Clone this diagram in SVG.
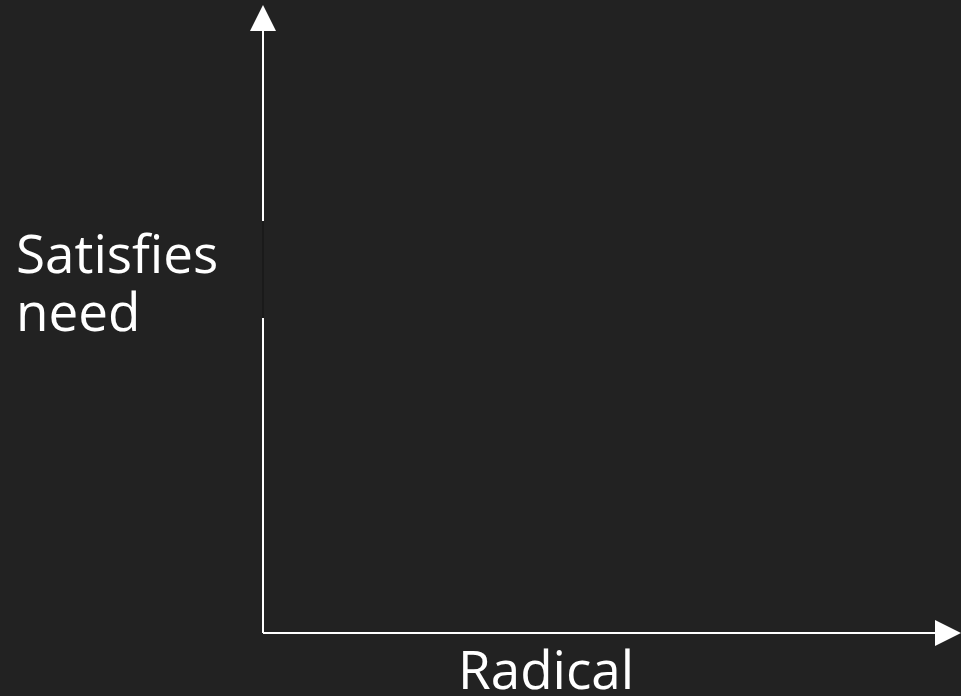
<svg xmlns="http://www.w3.org/2000/svg" width="961" height="696" viewBox="0 0 961 696">
<style>
.axis{stroke:#ffffff;stroke-width:2;fill:none}
.head{fill:#ffffff}
.lbl{font-family:"Open Sans","Noto Sans",sans-serif;font-size:53px;fill:#ffffff}
</style>
<rect width="961" height="696" fill="#222222"/>
<g id="connectors">
<line class="axis" x1="263" y1="633" x2="263" y2="28"/>
<polygon class="head" points="263,5 250,31 276,31"/>
<line class="axis" x1="263" y1="633" x2="937" y2="633"/>
<polygon class="head" points="961,633 935,620 935,646"/>
</g>
<g id="y-label">
<rect x="10" y="221" width="253" height="97" fill="#222222"/>
<rect x="262" y="221" width="2" height="97" fill="#1a1a1a"/>
<text class="lbl" x="16" y="273">Satisfies</text>
<text class="lbl" x="16" y="331">need</text>
</g>
<g id="x-label">
<text class="lbl" x="458" y="689">Radical</text>
</g>
</svg>
